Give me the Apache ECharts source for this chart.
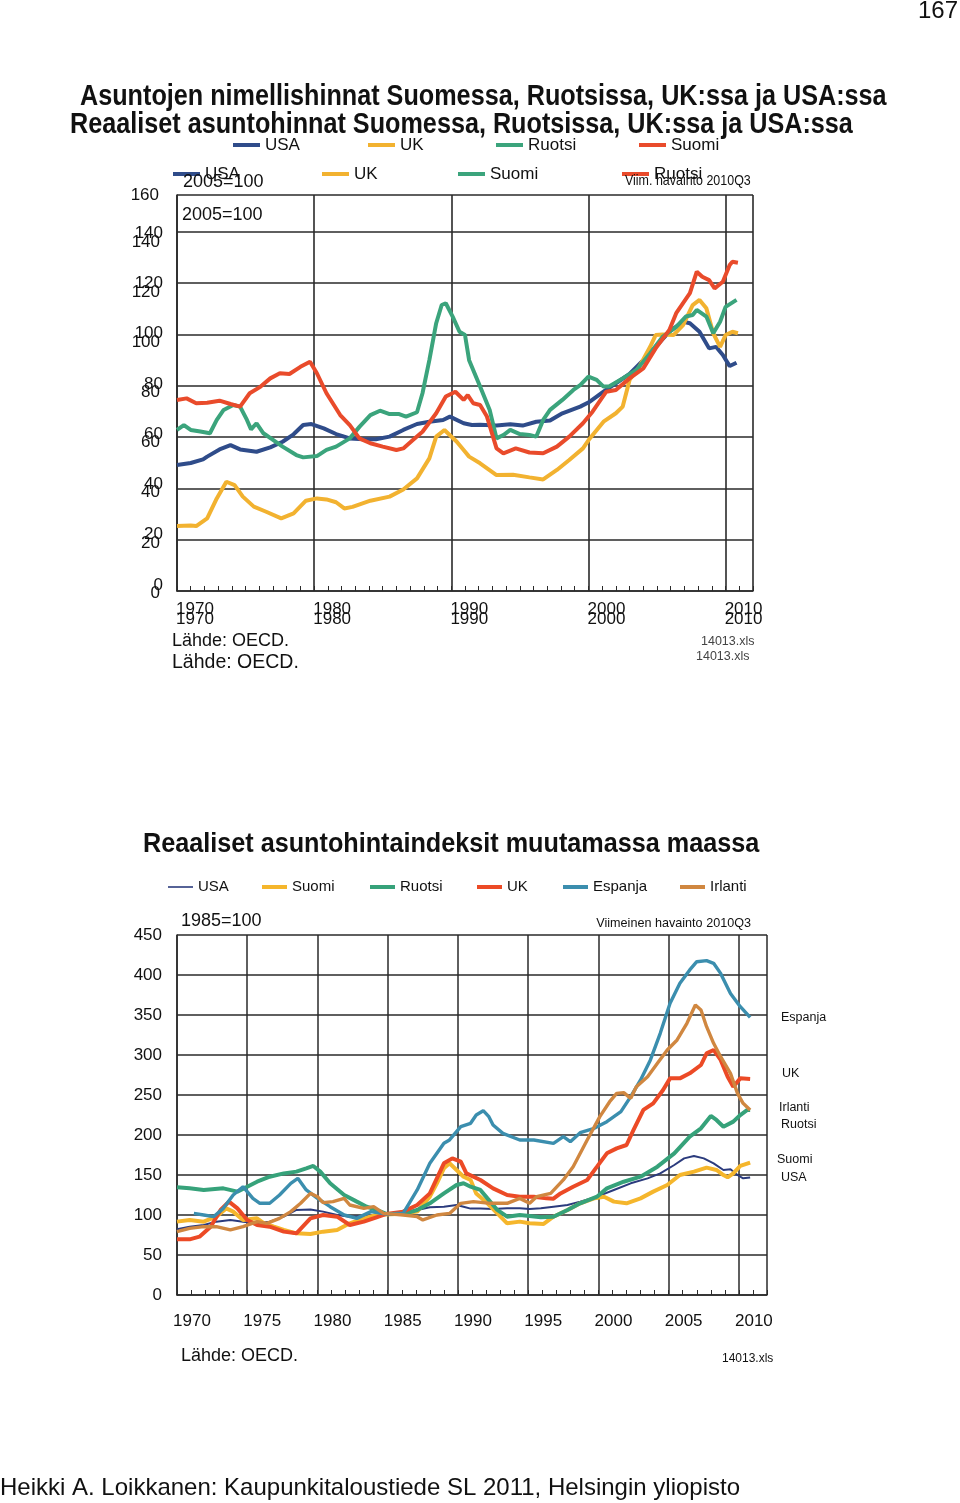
<!DOCTYPE html>
<html><head><meta charset="utf-8">
<script src="https://cdn.jsdelivr.net/npm/echarts@6/dist/echarts.min.js"></script>
<style>html,body{margin:0;padding:0;background:#fff;}.c{position:absolute;left:0;top:0;width:960px;height:1503px;}</style>
</head><body>
<div id="c1" class="c"></div><div id="c2" class="c"></div>
<script>
// ---------- DATA: top chart (2005=100) ----------
const topNames = ['USA', 'UK', 'Suomi', 'Ruotsi'];
const topUSA = [[1970.0,49.1],[1971.0,49.9],[1971.9,51.3],[1972.2,52.4],[1973.1,55.2],[1973.9,56.9],[1974.6,55.2],[1975.8,54.3],[1976.8,56.0],[1977.7,58.2],[1978.5,61.1],[1979.2,64.7],[1979.8,65.1],[1980.7,63.4],[1981.6,61.2],[1982.6,59.5],[1983.6,59.2],[1984.5,59.2],[1985.5,60.2],[1986.5,62.8],[1987.5,65.1],[1988.4,66.0],[1989.4,66.7],[1989.9,68.0],[1990.9,65.4],[1991.5,64.7],[1992.1,64.8],[1993.3,64.5],[1994.3,65.0],[1995.2,64.5],[1996.2,66.0],[1997.2,66.5],[1998.1,69.3],[1999.4,71.9],[2000.1,73.8],[2001.1,77.7],[2002.0,81.0],[2003.0,84.6],[2004.0,90.0],[2004.9,95.2],[2005.9,101.1],[2006.9,105.0],[2007.4,104.4],[2008.1,101.1],[2008.8,94.6],[2009.3,95.2],[2009.8,92.0],[2010.3,87.7],[2010.8,89.0]];
const topUK = [[1970.0,25.3],[1971.0,25.5],[1971.4,25.3],[1972.2,28.3],[1972.9,36.1],[1973.6,42.6],[1974.2,41.3],[1974.8,36.8],[1975.6,32.9],[1976.5,30.9],[1977.6,28.3],[1978.5,30.3],[1979.4,35.2],[1980.2,36.1],[1980.9,35.7],[1981.6,34.6],[1982.2,32.2],[1982.8,32.8],[1984.1,35.2],[1985.5,36.8],[1986.5,39.6],[1987.5,43.9],[1988.4,51.7],[1988.9,60.2],[1989.5,62.8],[1990.4,58.2],[1990.9,55.0],[1991.3,52.4],[1992.1,49.8],[1993.3,45.2],[1994.5,45.3],[1995.7,44.3],[1996.7,43.5],[1997.7,47.2],[1998.6,51.1],[1999.6,55.6],[2000.1,59.5],[2001.1,66.0],[2002.0,69.3],[2002.5,71.9],[2003.0,82.3],[2003.7,87.4],[2004.5,95.2],[2004.9,99.8],[2005.4,100.0],[2006.2,99.8],[2006.9,103.7],[2007.6,111.5],[2008.1,113.5],[2008.6,110.2],[2009.1,100.5],[2009.6,95.2],[2010.0,99.8],[2010.5,101.1],[2010.9,100.5]];
const topSuomi = [[1970.0,62.8],[1970.5,64.7],[1971.0,62.8],[1971.7,62.2],[1972.4,61.5],[1972.9,66.7],[1973.4,70.6],[1974.1,72.5],[1974.6,71.9],[1975.1,66.7],[1975.4,63.0],[1975.8,65.4],[1976.3,61.5],[1977.0,58.9],[1977.7,56.3],[1978.7,53.0],[1979.2,52.1],[1980.2,52.6],[1980.9,55.0],[1981.6,56.3],[1982.6,59.5],[1983.3,64.0],[1984.1,68.6],[1984.8,70.3],[1985.5,69.0],[1986.2,69.0],[1986.7,68.0],[1987.5,69.7],[1987.9,77.1],[1988.4,90.0],[1988.9,104.4],[1989.3,111.5],[1989.6,112.2],[1990.1,107.0],[1990.6,101.1],[1991.0,99.8],[1991.3,90.0],[1992.1,79.7],[1992.8,70.6],[1993.3,59.5],[1993.8,60.8],[1994.3,62.8],[1995.0,61.2],[1995.7,60.8],[1996.2,60.2],[1996.7,66.7],[1997.2,70.6],[1998.1,74.5],[1998.9,78.4],[1999.4,80.3],[2000.0,83.6],[2000.6,82.3],[2001.1,79.7],[2001.5,79.7],[2002.5,82.9],[2003.5,86.2],[2004.5,92.7],[2005.4,99.1],[2006.4,103.0],[2007.1,107.0],[2007.6,107.6],[2007.9,109.6],[2008.6,107.0],[2009.1,100.5],[2009.6,105.0],[2010.0,110.8],[2010.8,113.5]];
const topRuotsi = [[1970.0,74.5],[1970.7,75.1],[1971.4,73.2],[1972.2,73.4],[1973.1,74.2],[1973.9,72.9],[1974.6,71.9],[1975.3,77.1],[1976.1,79.7],[1976.8,82.9],[1977.5,84.9],[1978.2,84.6],[1979.0,87.4],[1979.7,89.4],[1980.2,84.9],[1980.9,77.1],[1981.9,68.6],[1982.6,64.7],[1983.3,59.5],[1984.1,57.6],[1985.0,56.3],[1986.0,55.0],[1986.5,55.6],[1987.2,58.9],[1987.9,62.1],[1988.9,69.3],[1989.6,75.8],[1990.3,77.7],[1990.9,74.5],[1991.2,76.4],[1991.6,73.2],[1992.1,72.5],[1992.6,68.0],[1993.3,55.6],[1993.8,53.7],[1994.7,55.6],[1995.7,54.0],[1996.7,53.7],[1997.7,56.3],[1998.6,60.2],[1999.6,65.4],[2000.3,69.9],[2001.3,77.7],[2002.0,78.4],[2003.0,82.9],[2004.0,86.8],[2004.9,94.6],[2005.9,101.8],[2006.4,108.3],[2007.4,116.1],[2007.9,124.5],[2008.3,122.5],[2008.8,121.2],[2009.2,118.0],[2009.8,120.6],[2010.3,127.1],[2010.5,128.4],[2010.9,128.0]];
const topYTicks = [0, 20, 40, 60, 80, 100, 120, 140];
const topYTopLabel = '160';
const topXLabels = [1970, 1980, 1990, 2000, 2010];

// ---------- DATA: bottom chart (1985=100) ----------
const botNames = ['USA', 'Suomi', 'Ruotsi', 'UK', 'Espanja', 'Irlanti'];
const botUSA = [[1970.0,82.1],[1970.9,85.4],[1971.9,87.5],[1972.8,91.7],[1973.8,93.8],[1974.7,91.7],[1975.7,89.6],[1976.6,91.7],[1977.6,97.9],[1978.5,106.3],[1979.5,107.0],[1980.4,104.2],[1981.4,100.0],[1982.3,97.9],[1983.3,98.8],[1984.2,100.0],[1985.2,100.8],[1986.1,102.1],[1987.1,106.3],[1988.0,109.6],[1989.0,110.4],[1989.9,112.5],[1990.4,110.4],[1990.9,108.0],[1991.6,108.0],[1992.5,107.5],[1993.5,108.3],[1994.4,108.3],[1995.1,107.5],[1995.9,108.3],[1996.8,110.4],[1997.8,112.5],[1998.7,116.7],[1999.9,122.9],[2001.1,131.3],[2002.3,139.6],[2003.5,145.8],[2004.4,152.0],[2005.4,162.5],[2006.1,170.8],[2006.8,173.8],[2007.5,170.8],[2008.2,164.6],[2008.9,156.3],[2009.4,157.1],[2009.9,150.0],[2010.3,145.8],[2010.8,146.9]];
const botSuomi = [[1970.0,91.7],[1970.9,93.8],[1971.9,91.7],[1972.8,97.9],[1973.5,108.3],[1974.0,104.2],[1974.7,93.8],[1975.7,95.8],[1976.2,89.6],[1976.9,85.4],[1977.6,81.3],[1978.5,77.1],[1979.5,76.3],[1980.4,79.2],[1981.4,81.3],[1982.3,89.6],[1983.3,95.8],[1984.2,100.0],[1985.2,100.8],[1986.1,101.7],[1987.1,104.2],[1988.0,122.9],[1988.5,139.6],[1989.0,158.3],[1989.4,164.6],[1989.9,156.3],[1990.4,147.9],[1990.9,143.8],[1991.3,127.0],[1992.1,114.6],[1992.8,102.0],[1993.5,89.6],[1994.4,91.7],[1995.1,89.6],[1996.1,88.8],[1996.8,97.9],[1997.8,106.3],[1998.7,114.6],[1999.7,120.8],[2000.4,122.9],[2001.1,116.7],[2002.0,114.6],[2003.0,120.8],[2003.9,129.2],[2004.9,137.5],[2005.8,150.0],[2006.8,154.2],[2007.7,159.2],[2008.4,156.3],[2008.9,150.0],[2009.2,147.1],[2009.6,152.0],[2010.1,161.3],[2010.8,165.4]];
const botRuotsi = [[1970.0,134.6],[1970.9,133.3],[1971.9,131.3],[1973.3,133.3],[1974.3,129.2],[1975.0,135.4],[1975.7,141.6],[1976.6,147.9],[1977.6,152.0],[1978.5,154.2],[1979.2,158.3],[1979.7,161.3],[1980.2,154.2],[1980.9,139.6],[1981.9,125.0],[1982.8,116.7],[1983.5,110.4],[1984.2,106.3],[1984.9,101.3],[1986.1,101.3],[1987.1,106.3],[1988.0,114.6],[1989.0,127.0],[1989.9,137.5],[1990.4,139.6],[1990.9,135.4],[1991.6,131.3],[1992.1,120.8],[1992.8,106.3],[1993.5,97.9],[1994.4,100.0],[1995.1,98.8],[1995.9,97.1],[1996.8,97.9],[1997.8,106.3],[1998.7,114.6],[1999.9,122.9],[2000.6,133.3],[2001.8,141.6],[2003.0,147.9],[2004.2,160.4],[2005.4,177.1],[2006.5,197.9],[2007.3,208.3],[2008.0,223.8],[2008.4,218.8],[2008.9,210.4],[2009.6,216.7],[2010.1,225.0],[2010.6,231.3],[2010.8,231.3]];
const botUK = [[1970.0,69.6],[1970.9,69.6],[1971.6,72.9],[1972.4,85.4],[1973.1,106.3],[1973.7,116.7],[1974.3,108.3],[1975.0,93.8],[1975.7,87.5],[1976.6,85.4],[1977.6,79.2],[1978.5,77.1],[1979.5,95.8],[1980.4,100.0],[1981.4,97.9],[1982.3,87.5],[1983.3,91.7],[1984.2,97.1],[1984.9,101.3],[1986.1,104.2],[1987.1,112.5],[1988.0,127.0],[1988.5,145.8],[1989.0,164.6],[1989.6,170.8],[1990.2,166.7],[1990.6,152.0],[1991.6,143.8],[1992.5,133.3],[1993.5,125.0],[1994.4,122.9],[1995.4,122.9],[1996.3,120.8],[1996.8,120.4],[1997.3,127.0],[1998.2,135.4],[1999.2,143.8],[1999.9,160.4],[2000.6,177.1],[2001.3,183.3],[2002.0,187.5],[2002.5,206.3],[2003.2,231.3],[2003.9,239.6],[2004.6,256.3],[2005.1,270.8],[2005.8,270.8],[2006.5,277.1],[2007.3,287.5],[2007.7,302.0],[2008.2,306.3],[2008.7,293.8],[2009.2,272.9],[2009.6,260.4],[2010.1,270.8],[2010.8,270.0]];
const botEspanja = [[1971.2,102.0],[1971.9,100.0],[1972.6,97.9],[1973.3,108.3],[1974.0,125.0],[1974.7,135.4],[1975.4,120.8],[1975.9,114.6],[1976.6,114.6],[1977.3,125.0],[1978.1,139.6],[1978.6,145.8],[1979.2,131.3],[1980.0,120.8],[1980.9,110.4],[1981.9,100.0],[1982.8,95.8],[1983.8,104.2],[1984.9,101.3],[1986.1,102.1],[1987.1,131.3],[1988.0,164.6],[1989.0,189.6],[1989.4,193.8],[1990.2,210.4],[1990.9,214.6],[1991.3,225.0],[1991.8,230.4],[1992.2,222.9],[1992.5,212.5],[1993.2,202.0],[1994.4,193.8],[1995.4,193.8],[1996.8,189.6],[1997.5,197.9],[1998.0,191.7],[1998.7,202.9],[1999.7,208.3],[2000.6,216.7],[2001.6,229.2],[2002.3,247.9],[2003.0,268.8],[2003.7,293.8],[2004.4,327.1],[2005.1,364.6],[2005.8,389.6],[2006.5,406.3],[2007.0,416.6],[2007.7,417.9],[2008.2,414.6],[2008.7,402.0],[2009.4,377.0],[2010.1,360.4],[2010.8,347.0]];
const botIrlanti = [[1970.0,79.2],[1970.9,83.3],[1971.9,85.4],[1972.8,85.4],[1973.8,81.3],[1974.7,85.4],[1975.7,91.7],[1976.4,89.6],[1977.3,95.8],[1978.1,104.2],[1978.8,114.6],[1979.5,127.0],[1980.0,122.9],[1980.4,115.4],[1981.1,116.7],[1981.9,120.8],[1982.3,112.5],[1983.3,108.3],[1984.0,110.4],[1984.7,102.0],[1986.1,100.0],[1987.1,97.9],[1987.5,93.8],[1988.5,100.0],[1989.4,102.0],[1990.2,114.6],[1991.1,116.7],[1992.3,114.6],[1993.5,114.6],[1994.4,120.8],[1995.1,114.6],[1995.6,122.9],[1996.6,127.0],[1997.5,143.8],[1998.2,160.4],[1999.2,193.8],[2000.1,222.9],[2000.8,241.6],[2001.3,252.0],[2001.8,252.9],[2002.3,245.8],[2002.7,260.4],[2003.5,272.9],[2004.2,289.6],[2004.9,306.3],[2005.6,318.8],[2006.3,339.6],[2006.9,362.5],[2007.3,356.3],[2007.7,335.4],[2008.2,314.6],[2008.7,297.9],[2009.4,277.1],[2009.9,252.0],[2010.3,239.6],[2010.8,231.3]];
const botXLabels = [1970, 1975, 1980, 1985, 1990, 1995, 2000, 2005, 2010];
const botYTicks = [0, 50, 100, 150, 200, 250, 300, 350, 400, 450];

// ---------- helpers ----------
const FONT = 'Liberation Sans';
const INK = '#111';
const GRID = '#2a2a2a';

function txt(text, x, y, size, o) {
  o = o || {};
  return {
    type: 'text', x: x, y: y, scaleX: o.sx || 1, z: 100,
    style: {
      text: text, fontSize: size, fontFamily: FONT, fontWeight: o.bold ? 'bold' : 'normal',
      fill: o.color || INK, textAlign: o.align || 'left', align: o.align || 'left',
      textVerticalAlign: 'middle', verticalAlign: 'middle'
    }
  };
}
function leg(item, left, yc, size, w, h) {
  return {
    data: [item], left: left, top: yc - size / 2, padding: 0, itemGap: 0,
    itemWidth: w, itemHeight: h, icon: 'rect', selectedMode: false,
    textStyle: { fontSize: size, color: INK, fontFamily: FONT }
  };
}
// an axis that only draws yearly tick marks inside the plot
function yearTickAxis(gridIndex) {
  return { gridIndex: gridIndex, type: 'value', position: 'bottom', min: 1970, max: 2012, interval: 1,
    axisLine: { show: false }, splitLine: { show: false }, axisLabel: { show: false },
    axisTick: { show: true, inside: true, length: 5, lineStyle: { color: GRID, width: 1 } } };
}

// ---------- top chart ----------
const topColors = { USA: '#2f4c8a', UK: '#f2b230', Suomi: '#3ba47c', Ruotsi: '#e94b2b' };
const topData = { USA: topUSA, UK: topUK, Suomi: topSuomi, Ruotsi: topRuotsi };
const TOPMAX = 154.4;
const c1 = echarts.init(document.getElementById('c1'), null, { renderer: 'canvas' });
const xLabFmt10 = v => (topXLabels.indexOf(v) >= 0 ? String(v) : '');
c1.setOption({
  animation: false,
  grid: [
    { left: 177, right: 207, top: 195, bottom: 912 },
    { left: 177, right: 207, top: 233, bottom: 918 },
    { left: 177, right: 207, top: 242, bottom: 910 }
  ],
  xAxis: [
    { gridIndex: 0, type: 'value', position: 'bottom', min: 1970, max: 2012, interval: 10,
      axisLine: { show: true, lineStyle: { color: GRID, width: 1.6 } },
      axisTick: { show: false },
      splitLine: { show: true, lineStyle: { color: GRID, width: 1.6 } },
      axisLabel: { margin: 19.5, fontSize: 17, color: INK, fontFamily: FONT, padding: [0, 0, 0, 36], formatter: xLabFmt10, showMaxLabel: false } },
    { gridIndex: 0, type: 'value', position: 'bottom', min: 1970, max: 2012, interval: 10,
      axisLine: { show: false }, axisTick: { show: false }, splitLine: { show: false },
      axisLabel: { margin: 9.5, fontSize: 17, color: INK, fontFamily: FONT, padding: [0, 0, 0, 36], formatter: xLabFmt10, showMaxLabel: false } },
    yearTickAxis(0),
    { gridIndex: 1, type: 'value', min: 1970, max: 2012, show: false },
    { gridIndex: 2, type: 'value', min: 1970, max: 2012, show: false }
  ],
  yAxis: [
    { gridIndex: 0, type: 'value', min: 0, max: TOPMAX, interval: 20,
      axisLine: { show: true, lineStyle: { color: GRID, width: 1.6 } }, axisTick: { show: false },
      splitLine: { show: true, lineStyle: { color: GRID, width: 1.6 } },
      axisLabel: { margin: 18, fontSize: 17, color: INK, fontFamily: FONT, showMaxLabel: true, showMinLabel: false,
        formatter: v => (v > 150 ? topYTopLabel : '') } },
    { gridIndex: 1, type: 'value', min: 0, max: 140, interval: 20,
      axisLine: { show: false }, axisTick: { show: false }, splitLine: { show: false },
      axisLabel: { margin: 14, fontSize: 17, color: INK, fontFamily: FONT, customValues: topYTicks } },
    { gridIndex: 2, type: 'value', min: 0, max: 140, interval: 20,
      axisLine: { show: false }, axisTick: { show: false }, splitLine: { show: false },
      axisLabel: { margin: 17, fontSize: 17, color: INK, fontFamily: FONT, customValues: topYTicks } }
  ],
  legend: [
    leg('USA', 233, 145, 17, 27, 4),
    leg('UK', 368, 145, 17, 27, 4),
    leg({ name: 'Ruotsi', itemStyle: { color: topColors.Suomi } }, 496, 145, 17, 27, 4),
    leg({ name: 'Suomi', itemStyle: { color: topColors.Ruotsi } }, 639, 145, 17, 27, 4),
    leg('USA', 173, 174, 17, 27, 4),
    leg('UK', 322, 174, 17, 27, 4),
    leg('Suomi', 458, 174, 17, 27, 4),
    leg('Ruotsi', 622, 174, 17, 27, 4)
  ],
  series: topNames.map(n => ({
    name: n, type: 'line', xAxisIndex: 0, yAxisIndex: 0, data: topData[n],
    showSymbol: false, symbol: 'none', color: topColors[n],
    lineStyle: { width: 4, color: topColors[n] }
  })),
  graphic: [
    txt('167', 958, 11, 24, { align: 'right' }),
    txt('Asuntojen nimellishinnat Suomessa, Ruotsissa, UK:ssa ja USA:ssa', 80, 97, 30, { bold: true, sx: 0.84 }),
    txt('Reaaliset asuntohinnat Suomessa, Ruotsissa, UK:ssa ja USA:ssa', 70, 125, 30, { bold: true, sx: 0.84 }),
    txt('2005=100', 183, 182, 18),
    txt('2005=100', 182, 215, 18),
    txt('Viim. havainto 2010Q3', 625, 181, 15, { sx: 0.83 }),
    txt('Lähde: OECD.', 172, 641, 18),
    txt('Lähde: OECD.', 172, 663, 19.5),
    txt('14013.xls', 701, 642, 12.5, { color: '#444' }),
    txt('14013.xls', 696, 657, 12.5, { color: '#444' })
  ]
});

// ---------- bottom chart ----------
const botColors = { USA: '#2b3b7d', Suomi: '#f5b62c', Ruotsi: '#36a27a', UK: '#ec4a26', Espanja: '#3b8eae', Irlanti: '#d08740' };
const botWidths = { USA: 2, Suomi: 4, Ruotsi: 4, UK: 4, Espanja: 3.4, Irlanti: 3.4 };
const botData = { USA: botUSA, Suomi: botSuomi, Ruotsi: botRuotsi, UK: botUK, Espanja: botEspanja, Irlanti: botIrlanti };
const c2 = echarts.init(document.getElementById('c2'), null, { renderer: 'canvas' });
c2.setOption({
  animation: false,
  grid: { left: 177, right: 193, top: 935, bottom: 208 },
  xAxis: [
    { type: 'value', position: 'bottom', min: 1970, max: 2012, interval: 5,
      axisLine: { show: true, lineStyle: { color: GRID, width: 1.5 } },
      axisTick: { show: false },
      splitLine: { show: true, lineStyle: { color: GRID, width: 1.5 } },
      axisLabel: { margin: 17.5, fontSize: 17, color: INK, fontFamily: FONT, padding: [0, 0, 0, 30], showMaxLabel: false,
        formatter: v => (botXLabels.indexOf(v) >= 0 ? String(v) : '') } },
    yearTickAxis(0)
  ],
  yAxis: { type: 'value', min: 0, max: 450, interval: 50,
    axisLine: { show: true, lineStyle: { color: GRID, width: 1.5 } }, axisTick: { show: false },
    splitLine: { show: true, lineStyle: { color: GRID, width: 1.5 } },
    axisLabel: { margin: 15, fontSize: 17, color: INK, fontFamily: FONT, customValues: botYTicks } },
  legend: [
    leg({ name: 'USA', icon: 'path://M0,0h25v1.6h-25z' }, 168, 887, 15, 25, 4),
    leg('Suomi', 262, 887, 15, 25, 4),
    leg('Ruotsi', 370, 887, 15, 25, 4),
    leg('UK', 477, 887, 15, 25, 4),
    leg('Espanja', 563, 887, 15, 25, 4),
    leg('Irlanti', 680, 887, 15, 25, 4)
  ],
  series: botNames.map(n => ({
    name: n, type: 'line', xAxisIndex: 0, data: botData[n], showSymbol: false, symbol: 'none',
    color: botColors[n], lineStyle: { width: botWidths[n], color: botColors[n] }
  })),
  graphic: [
    txt('Reaaliset asuntohintaindeksit muutamassa maassa', 143, 844, 28, { bold: true, sx: 0.9 }),
    txt('1985=100', 181, 921, 18),
    txt('Viimeinen havainto 2010Q3', 751, 923, 13, { align: 'right', sx: 0.97 }),
    txt('Espanja', 781, 1018, 12.5),
    txt('UK', 782, 1074, 12.5),
    txt('Irlanti', 779, 1108, 12.5),
    txt('Ruotsi', 781, 1125, 12.5),
    txt('Suomi', 777, 1160, 12.5),
    txt('USA', 781, 1178, 12.5),
    txt('Lähde: OECD.', 181, 1356, 18),
    txt('14013.xls', 722, 1359, 12),
    txt('Heikki A. Loikkanen: Kaupunkitaloustiede SL 2011, Helsingin yliopisto', 0, 1488, 24)
  ]
});
</script>
</body></html>
